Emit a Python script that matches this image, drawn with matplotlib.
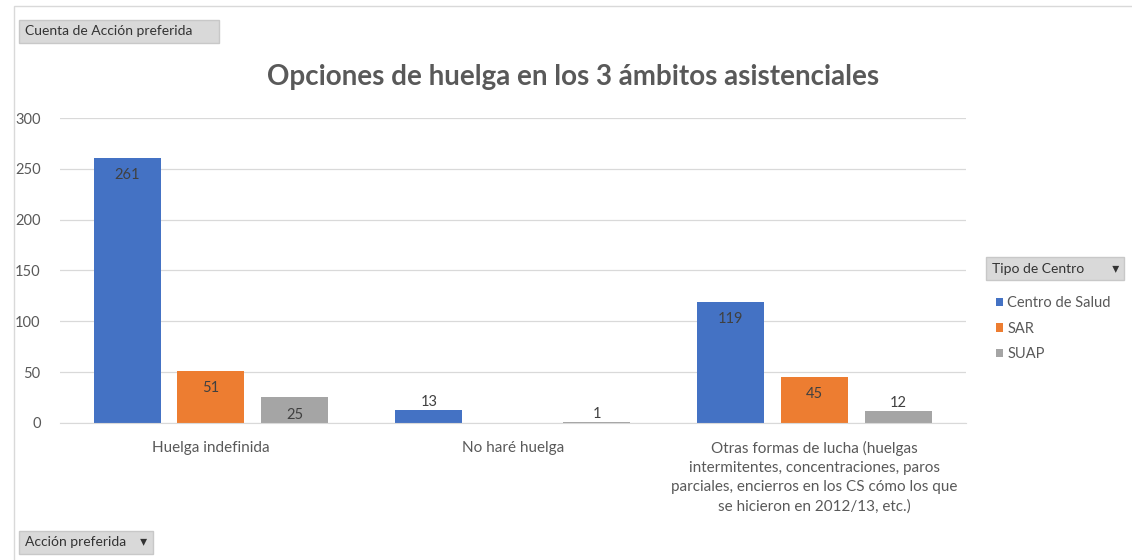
import matplotlib.pyplot as plt
import matplotlib.patches as mpatches
import numpy as np

plt.rcParams['font.family'] = ['Lato', 'DejaVu Sans']

categorias = ['Huelga indefinida', 'No haré huelga',
              'Otras formas de lucha (huelgas\nintermitentes, concentraciones, paros\n'
              'parciales, encierros en los CS cómo los que\nse hicieron en 2012/13, etc.)']
series = ['Centro de Salud', 'SAR', 'SUAP']
centro_salud = [261, 13, 119]
sar = [51, np.nan, 45]
suap = [25, 1, 12]
colores = ['#4472C4', '#ED7D31', '#A5A5A5']

fig = plt.figure(figsize=(11.32, 5.6), dpi=100)
ax = fig.add_axes([0.053, 0.245, 0.80, 0.544])

x = np.arange(len(categorias))
w = 0.222
paso = 0.278
handles = []
for i, (nombre, vals, col) in enumerate(zip(series, [centro_salud, sar, suap], colores)):
    pos = x + (i - 1) * paso
    b = ax.bar(pos, vals, width=w, color=col, label=nombre)
    handles.append(b)
    for p, v in zip(pos, vals):
        if np.isnan(v):
            continue
        if v > 20:
            ax.text(p, v - 10, str(int(v)), ha='center', va='top', fontsize=10.5, color='#404040')
        else:
            ax.text(p, v + 1, str(int(v)), ha='center', va='bottom', fontsize=10.5, color='#404040')

ax.set_xlim(-0.5, 2.5)
ax.set_ylim(0, 300)
ax.set_yticks(range(0, 301, 50))
ax.yaxis.grid(True, color='#D9D9D9', lw=0.9)
ax.set_axisbelow(True)
for s in ['top', 'right', 'left']:
    ax.spines[s].set_visible(False)
ax.spines['bottom'].set_color('#D9D9D9')
ax.tick_params(axis='both', length=0, colors='#595959', labelsize=10.5)
ax.tick_params(axis='y', pad=14)
ax.set_xticks(x)
ax.set_xticklabels(categorias, fontsize=11, color='#595959', linespacing=1.45)
ax.tick_params(axis='x', pad=13)

fig.text(0.506, 0.862, 'Opciones de huelga en los 3 ámbitos asistenciales',
         ha='center', va='center', fontsize=20, color='#595959', fontweight='bold')

# marco del gráfico
fig.add_artist(mpatches.Rectangle((0.012, -0.1), 1.2, 1.089, transform=fig.transFigure,
                                  fill=False, edgecolor='#D9D9D9', lw=1))

# botones de tabla dinámica
caja = dict(boxstyle='square,pad=0.4', facecolor='#D9D9D9', edgecolor='#C8C8C8')
fig.text(0.022, 0.944, 'Cuenta de Acción preferida      ', ha='left', va='center',
         fontsize=10, color='#333333', bbox=caja)
fig.text(0.022, 0.032, 'Acción preferida    ▾', ha='left', va='center',
         fontsize=10, color='#333333', bbox=caja)
fig.text(0.876, 0.52, 'Tipo de Centro        ▾', ha='left', va='center',
         fontsize=10, color='#333333', bbox=caja)

leg = fig.legend(handles=handles, labels=series, loc='upper left',
                 bbox_to_anchor=(0.868, 0.495), frameon=False, fontsize=10.5,
                 handlelength=0.5, handleheight=0.5, handletextpad=0.3,
                 labelspacing=0.8, labelcolor='#595959')

fig.savefig('out.png', dpi=100)
